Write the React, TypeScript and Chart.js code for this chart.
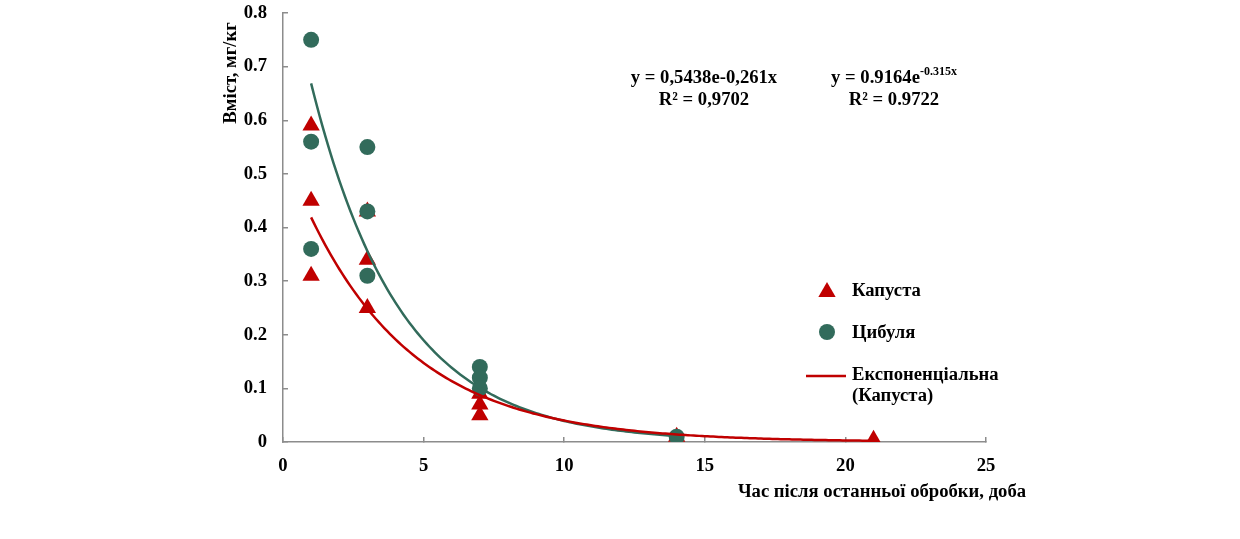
import { useEffect, useRef } from "react";
import { Chart, registerables } from "chart.js";

Chart.register(...registerables);

// measured points (days after last treatment, mg/kg)
const cabbageDays = [1, 1, 1, 3, 3, 3, 7, 7, 7, 14, 21];
const cabbageValues = [0.59, 0.45, 0.31, 0.43, 0.34, 0.25, 0.09, 0.07, 0.05, 0.01, 0.004];
const onionDays = [1, 1, 1, 3, 3, 3, 7, 7, 7, 14];
const onionValues = [0.75, 0.56, 0.36, 0.55, 0.43, 0.31, 0.14, 0.12, 0.1, 0.01];

// exponential trendlines as printed on the chart: y = a * e^(-b x)
const cabbageFit = { a: 0.5438, b: 0.261, from: 1, to: 21 };
const onionFit = { a: 0.9164, b: 0.315, from: 1, to: 14 };

const xTitle = "Час після останньої обробки, доба";
const yTitle = "Вміст, мг/кг";
const legendLabels = ["Капуста", "Цибуля", "Експоненціальна", "(Капуста)"];

const RED = "#C00000";
const GREEN = "#326B5B";
const AXIS = "#8C8C8C";
const FONT = '"Liberation Serif", "Times New Roman", serif';
const SIZE = 18.67;

function fitPoints(fit: { a: number; b: number; from: number; to: number }) {
  const pts: { x: number; y: number }[] = [];
  const steps = Math.round((fit.to - fit.from) * 10);
  for (let i = 0; i <= steps; i++) {
    const x = fit.from + i / 10;
    pts.push({ x, y: fit.a * Math.exp(-fit.b * x) });
  }
  return pts;
}

const toXY = (xs: number[], ys: number[]) => xs.map((x, i) => ({ x, y: ys[i] }));

const textPlugin = {
  id: "texts",
  afterDraw(chart: any) {
    const ctx = chart.ctx as CanvasRenderingContext2D;
    const big = `bold ${SIZE}px ${FONT}`;
    const small = `bold 12px ${FONT}`;
    ctx.save();
    ctx.fillStyle = "#000";
    ctx.font = big;
    ctx.textBaseline = "middle";

    // axis titles
    ctx.textAlign = "center";
    ctx.fillText(xTitle, 882, 492);
    ctx.save();
    ctx.translate(231, 73);
    ctx.rotate(-Math.PI / 2);
    ctx.fillText(yTitle, 0, 0);
    ctx.restore();

    // equations
    ctx.fillText("y = 0,5438e-0,261x", 704, 78);
    ctx.fillText("R² = 0,9702", 704, 100);
    const base = "y = 0.9164e";
    const sup = "-0.315x";
    const wBase = ctx.measureText(base).width;
    ctx.font = small;
    const wSup = ctx.measureText(sup).width;
    const start = 894 - (wBase + wSup) / 2;
    ctx.textAlign = "left";
    ctx.font = big;
    ctx.fillText(base, start, 78);
    ctx.font = small;
    ctx.fillText(sup, start + wBase, 72);
    ctx.font = big;
    ctx.textAlign = "center";
    ctx.fillText("R² = 0.9722", 894, 100);

    // legend
    ctx.textAlign = "left";
    ctx.fillStyle = RED;
    const r = 10;
    const h = r * Math.sin((2 * Math.PI) / 3);
    ctx.beginPath();
    ctx.moveTo(827, 292 - r);
    ctx.lineTo(827 + h, 292 + r / 2);
    ctx.lineTo(827 - h, 292 + r / 2);
    ctx.closePath();
    ctx.fill();
    ctx.fillStyle = GREEN;
    ctx.beginPath();
    ctx.arc(827, 332, 8, 0, Math.PI * 2);
    ctx.fill();
    ctx.strokeStyle = RED;
    ctx.lineWidth = 2.5;
    ctx.beginPath();
    ctx.moveTo(806, 376);
    ctx.lineTo(846, 376);
    ctx.stroke();
    ctx.fillStyle = "#000";
    ctx.fillText(legendLabels[0], 852, 291);
    ctx.fillText(legendLabels[1], 852, 333);
    ctx.fillText(legendLabels[2], 852, 375);
    ctx.fillText(legendLabels[3], 852, 396);
    ctx.restore();
  },
};

export default function App() {
  const canvasRef = useRef<HTMLCanvasElement>(null);

  useEffect(() => {
    document.body.style.margin = "0";
    if (!canvasRef.current) return;
    const chart = new Chart(canvasRef.current, {
      type: "scatter",
      data: {
        datasets: [
          {
            type: "line",
            label: "Експоненціальна (Капуста)",
            data: fitPoints(cabbageFit),
            borderColor: RED,
            borderWidth: 2.5,
            pointRadius: 0,
            fill: false,
            order: 1,
          },
          {
            type: "line",
            label: "Експоненціальна (Цибуля)",
            data: fitPoints(onionFit),
            borderColor: GREEN,
            borderWidth: 2.5,
            pointRadius: 0,
            fill: false,
            order: 2,
          },
          {
            label: "Цибуля",
            data: toXY(onionDays, onionValues),
            backgroundColor: GREEN,
            borderColor: GREEN,
            pointStyle: "circle",
            pointRadius: 8,
            borderWidth: 0,
            order: 3,
          },
          {
            label: "Капуста",
            data: toXY(cabbageDays, cabbageValues),
            backgroundColor: RED,
            borderColor: RED,
            pointStyle: "triangle",
            pointRadius: 10,
            borderWidth: 0,
            order: 4,
          },
        ],
      },
      options: {
        responsive: false,
        animation: false,
        layout: { padding: { left: 0, right: 254, top: 13, bottom: 0 } },
        plugins: { legend: { display: false }, tooltip: { enabled: false } },
        scales: {
          x: {
            type: "linear",
            min: 0,
            max: 25,
            ticks: {
              stepSize: 5,
              color: "#000",
              padding: 18,
              font: { family: FONT, size: SIZE, weight: "bold" },
            },
            grid: { drawOnChartArea: false, drawTicks: true, tickLength: -5, color: AXIS, lineWidth: 1.5 },
            border: { color: AXIS, width: 1.5 },
            afterFit: (s: any) => {
              s.height = 97;
              s.paddingLeft = 0;
              s.paddingRight = 0;
            },
          },
          y: {
            min: 0,
            max: 0.8,
            ticks: {
              stepSize: 0.1,
              color: "#000",
              padding: 21,
              font: { family: FONT, size: SIZE, weight: "bold" },
            },
            grid: { drawOnChartArea: false, drawTicks: true, tickLength: -5, color: AXIS, lineWidth: 1.5 },
            border: { color: AXIS, width: 1.5 },
            afterFit: (s: any) => {
              s.width = 283;
              s.paddingTop = 0;
              s.paddingBottom = 0;
            },
          },
        },
      },
      plugins: [textPlugin],
    });
    return () => chart.destroy();
  }, []);

  return <canvas ref={canvasRef} width={1240} height={539} style={{ display: "block" }} />;
}
